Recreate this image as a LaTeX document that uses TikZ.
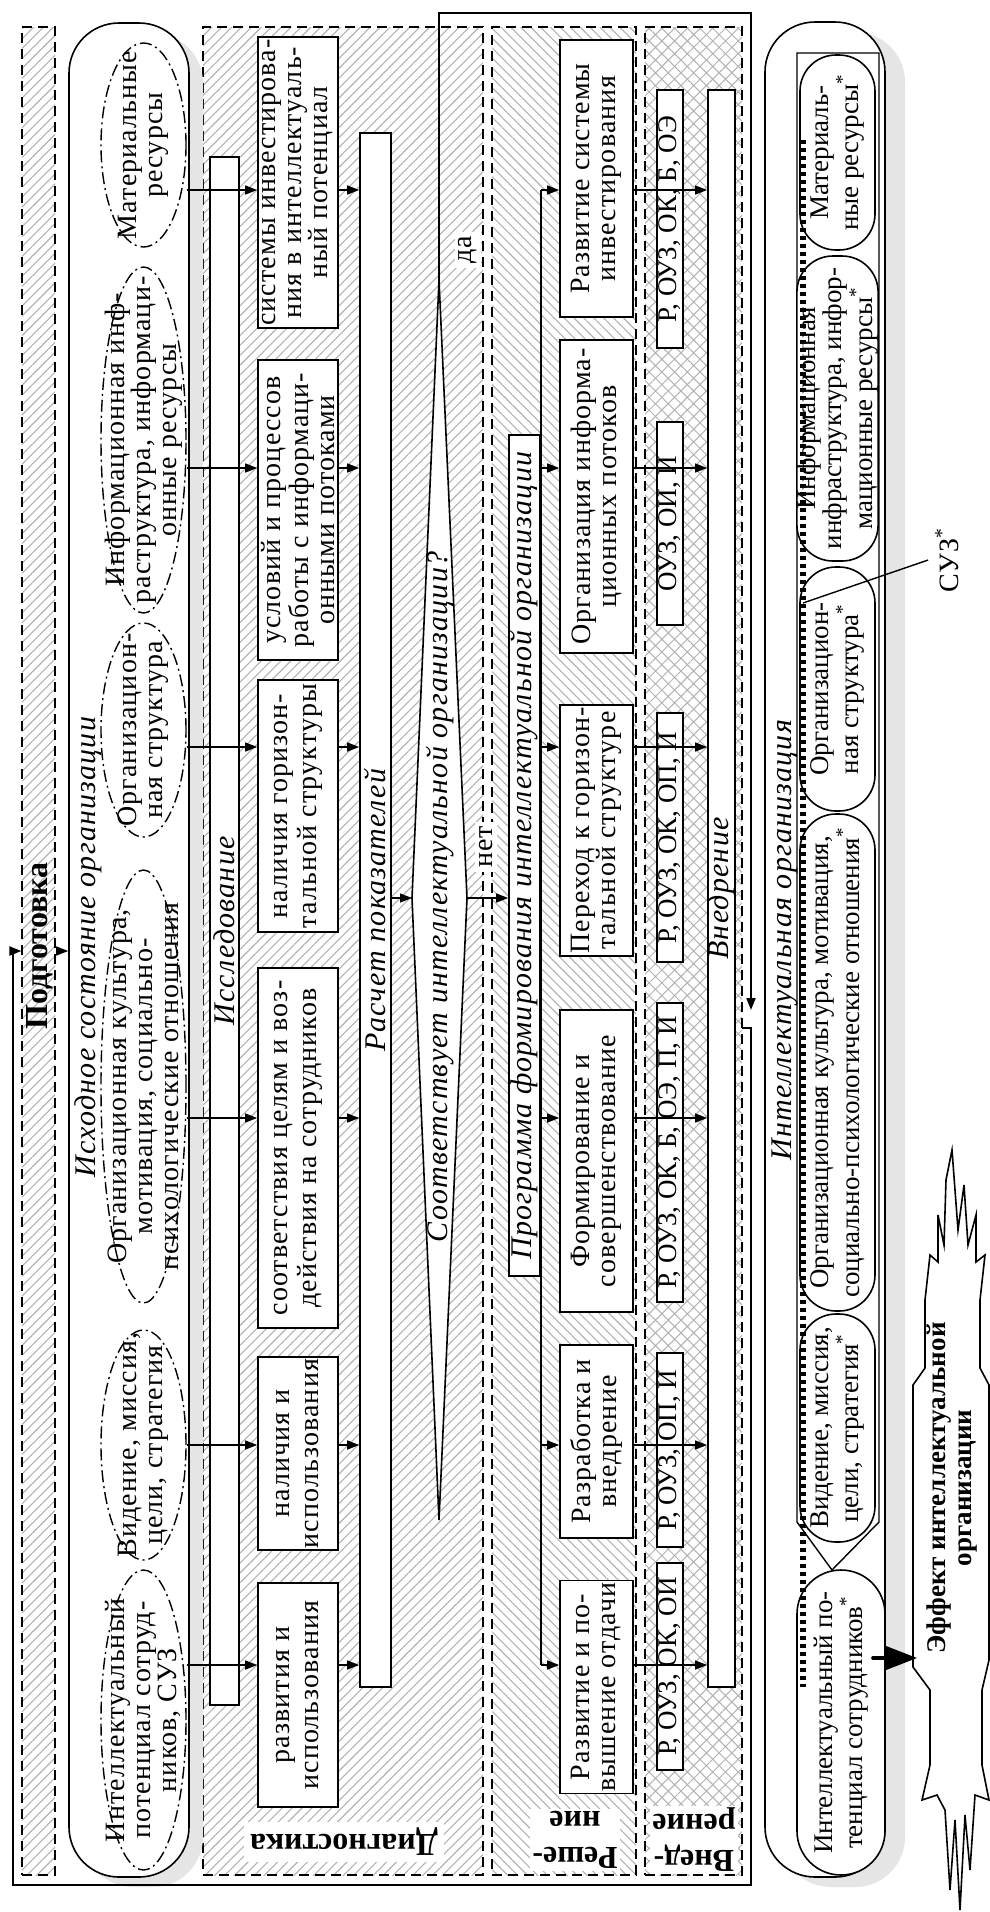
\documentclass[tikz,border=0pt]{standalone}
\usepackage{fontspec}
\setmainfont{Liberation Serif}
\newfontfamily\spaced{Liberation Serif}[LetterSpace=4]
\usetikzlibrary{arrows.meta,patterns.meta,shapes.geometric}
\newcommand\dfont{\fontsize{13.5}{13}\selectfont}
\newcommand\sfont{\spaced\fontsize{14}{13}\selectfont}
\newcommand\wfont{\spaced\fontsize{14}{14.5}\selectfont}
\newcommand\dital{\spaced\fontsize{15}{15}\selectfont\itshape}
\newcommand\dbold{\fontsize{16}{18}\selectfont\bfseries}
\tikzset{
  stage/.style={draw,line width=0.8pt,dash pattern=on 5pt off 3pt,inner sep=0pt},
  hatchA/.style={pattern={Lines[angle=45,distance=3.5pt,line width=0.55pt]},pattern color=gray!60},
  hatchB/.style={pattern={Lines[angle=-45,distance=3.5pt,line width=0.55pt]},pattern color=gray!60},
  hatchC/.style={pattern={Hatch[angle=45,distance=4.5pt,line width=0.5pt]},pattern color=gray!60},
  box/.style={draw,fill=white,rotate=90,line width=0.8pt,align=center,inner sep=1pt,font=\sfont},
  wbox/.style={box,font=\wfont},
  bar/.style={draw,fill=white,rotate=90,line width=0.8pt,inner sep=0pt,font=\dital},
  tag/.style={draw,fill=white,rotate=90,line width=0.8pt,inner sep=0pt,font=\dfont},
  pill/.style={draw,fill=white,rotate=90,line width=0.8pt,align=center,inner sep=0pt,rounded corners=18pt,font=\dfont},
  res/.style={draw,ellipse,inner sep=0pt,line width=0.7pt,dash pattern=on 6pt off 2pt on 1pt off 2pt},
  restext/.style={rotate=90,align=center,inner sep=0pt,font=\sfont},
  lbl/.style={rotate=90,inner sep=0pt,font=\dital},
  arr/.style={-{Triangle[length=6pt,width=4.5pt]},line width=0.7pt},
  loopline/.style={-{Triangle[length=6pt,width=4.5pt]},line width=1pt},
}
\begin{document}
\begin{tikzpicture}[x=0.5pt,y=-0.5pt]
\useasboundingbox (0,0) rectangle (990,1912);
\fill[white] (0,0) rectangle (990,1912);

\node[stage,hatchA,minimum width=16.5pt,minimum height=924pt] (prep) at (38.5,951) {};
\node[stage,hatchA,minimum width=140pt,minimum height=924pt] (diag) at (343,951) {};
\node[stage,hatchB,minimum width=72pt,minimum height=924pt] (resh) at (564,951) {};
\node[stage,hatchC,minimum width=48.5pt,minimum height=924pt] (vnedb) at (693.5,951) {};

\fill[gray!20,rounded corners=25pt] (83,33) rectangle (203,1887);
\node[draw,fill=white,line width=0.8pt,rounded corners=25pt,inner sep=0pt,minimum width=60pt,minimum height=927pt] (init) at (129,950) {};
\node[lbl] (inittl) at (88,947) {Исходное состояние организации};
\node[rotate=90,font=\dbold] (preplbl) at (40,946) {Подготовка};

\node[res,minimum width=42.5pt,minimum height=102pt] (e1) at (143.5,145) {};
\node[res,minimum width=42.5pt,minimum height=173pt] (e2) at (143.5,440) {};
\node[res,minimum width=42.5pt,minimum height=107pt] (e3) at (143.5,730) {};
\node[res,minimum width=42.5pt,minimum height=216.5pt] (e4) at (143.5,1086.5) {};
\node[res,minimum width=42.5pt,minimum height=115pt] (e5) at (143.5,1445) {};
\node[res,minimum width=42.5pt,minimum height=150pt] (e6) at (143.5,1720) {};
\node[restext] (et1) at (e1) {Материальные\\ресурсы};
\node[restext] (et2) at (e2) {Информационная инф-\\раструктура, информаци-\\онные ресурсы};
\node[restext] (et3) at (e3) {Организацион-\\ная структура};
\node[restext] (et4) at (e4) {Организационная культура,\\мотивация, социально-\\психологические отношения};
\node[restext] (et5) at (e5) {Видение, миссия,\\цели, стратегия};
\node[restext] (et6) at (e6) {Интеллектуальный\\потенциал сотруд-\\ников, СУЗ};

\node[bar,minimum width=774pt,minimum height=14.5pt] (issl) at (224.5,931) {Исследование};
\node[bar,minimum width=777pt,minimum height=15.5pt] (rasch) at (375.5,910) {Расчет показателей};
\node[bar,minimum width=420.5pt,minimum height=15.5pt] (prog) at (524.5,855.5) {Программа формирования интеллектуальной организации};
\node[bar,minimum width=798.5pt,minimum height=13.5pt] (vned) at (721.5,888.5) {Внедрение};

\node[box,minimum width=142.5pt,minimum height=40pt] (d1) at (298,182.5) {системы инвестирова-\\ния в интеллектуаль-\\ный потенциал};
\node[box,minimum width=150pt,minimum height=40pt] (d2) at (298,510) {условий и процессов\\работы с информаци-\\онными потоками};
\node[wbox,minimum width=126pt,minimum height=40pt] (d3) at (298,806) {наличия горизон-\\тальной структуры};
\node[wbox,minimum width=180pt,minimum height=40pt] (d4) at (298,1148) {соответствия целям и воз-\\действия на сотрудников};
\node[wbox,minimum width=96.5pt,minimum height=40pt] (d5) at (298,1453.5) {наличия и\\использования};
\node[wbox,minimum width=112pt,minimum height=40pt] (d6) at (298,1695) {развития и\\использования};

\coordinate (dt) at (439,280);
\coordinate (db) at (439,1520);
\coordinate (dl) at (412,898);
\coordinate (dr) at (467,898);
\draw[line width=0.8pt,fill=white] (dt) -- (dr) -- (db) -- (dl) -- cycle;
\node[lbl] (qtext) at (440,897) {Соответствует интеллектуальной организации?};

\node[box,minimum width=138.5pt,minimum height=36.5pt] (s1) at (596.5,178.5) {Развитие системы\\инвестирования};
\node[box,minimum width=156.5pt,minimum height=36.5pt] (s2) at (596.5,496.5) {Организация информа-\\ционных потоков};
\node[box,minimum width=122.5pt,minimum height=36.5pt] (s3) at (596.5,830.5) {Переход к горизон-\\тальной структуре};
\node[box,minimum width=151pt,minimum height=36.5pt] (s4) at (596.5,1161) {Формирование и\\совершенствование};
\node[box,minimum width=96.5pt,minimum height=36.5pt] (s5) at (596.5,1441.5) {Разработка и\\внедрение};
\node[box,minimum width=105pt,minimum height=36.5pt] (s6) at (596.5,1687) {Развитие и по-\\вышение отдачи};

\node[tag,minimum width=129pt,minimum height=13pt] (t1) at (670,219) {Р, ОУЗ, ОК, Б, ОЭ};
\node[tag,minimum width=101.5pt,minimum height=13pt] (t2) at (670,523.5) {ОУЗ, ОИ, И};
\node[tag,minimum width=124.5pt,minimum height=13pt] (t3) at (670,837.5) {Р, ОУЗ, ОК, ОП, И};
\node[tag,minimum width=149.5pt,minimum height=13pt] (t4) at (670,1152.5) {Р, ОУЗ, ОК, Б, ОЭ, П, И};
\node[tag,minimum width=97pt,minimum height=13pt] (t5) at (670,1450) {Р, ОУЗ, ОП, И};
\node[tag,minimum width=103.5pt,minimum height=13pt] (t6) at (670,1666.5) {Р, ОУЗ, ОК, ОИ};

\node[rotate=180,font=\dbold,fill=white,inner sep=3pt] (diaglbl) at (344,1842) {Диагностика};
\node[rotate=180,font=\dbold,fill=white,align=center,inner sep=1pt] (reshlbl) at (575,1840) {Реше-\\ние};
\node[rotate=180,font=\dbold,fill=white,align=center,inner sep=1pt] (vnedlbl) at (694,1840) {Внед-\\рение};

\fill[gray!20,rounded corners=25pt] (781,32) rectangle (905,1887);
\node[draw,fill=white,line width=0.8pt,rounded corners=25pt,inner sep=0pt,minimum width=60pt,minimum height=927.5pt] (io) at (825,949.5) {};
\draw[line width=0.7pt] (797,53) -- (879,53) -- (879,1522) -- (832,1570) -- (797,1522) -- cycle;
\node[lbl] (iotl) at (785,940) {Интеллектуальная организация};
\node[pill,minimum width=97.5pt,minimum height=37.5pt] (p1) at (837.5,152.5) {Материаль-\\ные ресурсы\textsuperscript{*}};
\node[pill,minimum width=152.5pt,minimum height=37.5pt] (p2) at (837.5,408.5) {Информационная\\инфраструктура, инфор-\\мационные ресурсы\textsuperscript{*}};
\node[pill,minimum width=122pt,minimum height=37.5pt] (p3) at (837.5,689) {Организацион-\\ная структура\textsuperscript{*}};
\node[pill,minimum width=248.5pt,minimum height=37.5pt] (p4) at (837.5,1062.5) {Организационная культура, мотивация,\\социально-психологические отношения\textsuperscript{*}};
\node[pill,minimum width=114pt,minimum height=37.5pt] (p5) at (837.5,1428) {Видение, миссия,\\цели, стратегия\textsuperscript{*}};
\node[pill,rounded corners=22pt,minimum width=152.5pt,minimum height=44pt] (p6) at (841,1722.5) {Интеллектуальный по-\\тенциал сотрудников\textsuperscript{*}};
\draw[line width=2.6pt,dash pattern=on 2pt off 2pt] (803,140) -- (803,1687);

\node[rotate=90,font=\sfont] (suz) at (947,560) {СУЗ\textsuperscript{*}};
\coordinate (suzp) at (803,603);
\draw[line width=0.7pt] (suz.north) -- (suzp);

\draw[line width=0.8pt,fill=white] (952,1150) -- (958,1230) -- (964,1185) -- (968,1245) -- (976,1215) -- (976,1262) -- (985,1255) -- (980,1300) -- (980,1368) -- (989,1385) -- (989,1660) -- (982,1690) -- (982,1765) -- (989,1800) -- (975,1795) -- (970,1870) -- (965,1815) -- (960,1910) -- (955,1820) -- (950,1890) -- (945,1810) -- (937,1795) -- (922,1800) -- (930,1765) -- (930,1690) -- (913,1667) -- (913,1385) -- (925,1368) -- (925,1300) -- (930,1255) -- (938,1262) -- (938,1215) -- (944,1245) -- (946,1180) -- cycle;
\node[rotate=90,font=\dfont\bfseries,align=center] (eff) at (952,1488) {Эффект интеллектуальной\\организации};
\coordinate (effin) at (917,1658);
\draw[line width=1.6pt,line cap=round,-{Triangle[length=16pt,width=12pt]},shorten <=-6.5pt] (effin -| p6.south) -- (effin);

\foreach \i/\y in {1/190,2/468,3/747,4/1118,5/1445,6/1665}
  \coordinate (r\i) at (0,\y);
\foreach \i in {1,...,6}{
  \draw[arr] (r\i -| e\i.east) -- (r\i -| d\i.north);
  \draw[arr] (r\i -| d\i.south) -- (r\i -| rasch.north);
  \draw[arr] (r\i -| prog.south) -- (r\i -| s\i.north);
  \draw[arr] (r\i -| s\i.south) -- (r\i -| vned.north);
}
\draw[line width=0.7pt] (r1 -| prog.south) -- (r6 -| prog.south);
\draw[arr] (dl -| rasch.south) -- (dl);
\draw[arr] (dr) -- (dr -| prog.north);
\node[rotate=90,fill=white,font=\sfont,inner sep=2pt] (yes) at (468,250) {да};
\node[rotate=90,fill=white,font=\sfont,inner sep=2pt] (no) at (486,847) {нет};

\coordinate (yesend) at (751,1010);
\draw[loopline] (dt) -- ++(0,-267) -| (yesend);
\coordinate (back) at (742,1028);
\draw[loopline] (back) -| (751,1885) -- (13,1885) |- (prep.west);
\draw[arr] (prep.east) -- (prep.east -| init.west);
\end{tikzpicture}
\end{document}
